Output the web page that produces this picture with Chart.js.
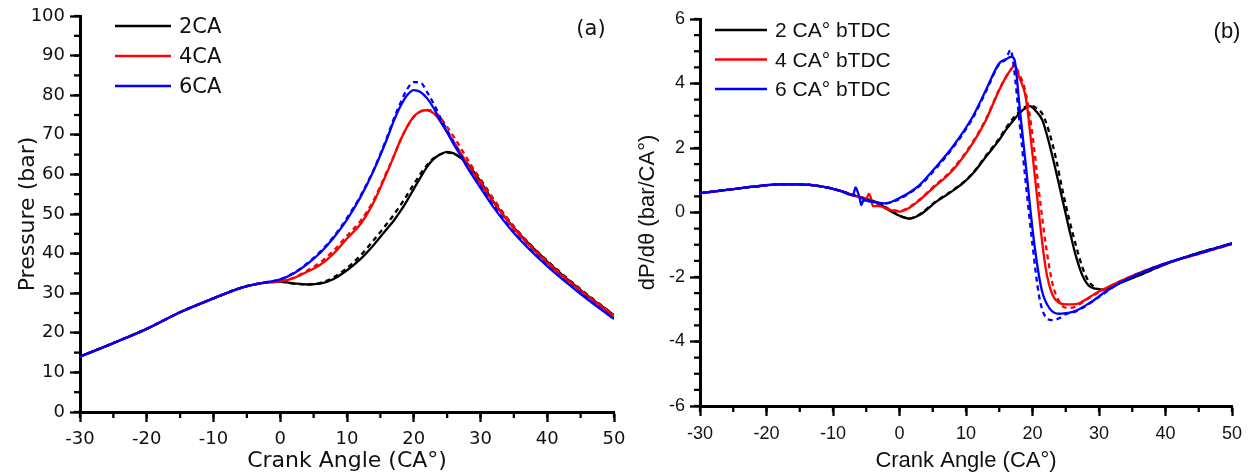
<!DOCTYPE html>
<html>
<head>
<meta charset="utf-8">
<script src="https://cdn.jsdelivr.net/npm/chart.js@4.4.1/dist/chart.umd.min.js"></script>
<style>
  html, body { margin: 0; padding: 0; background: #fff; }
  #wrap { position: relative; width: 1252px; height: 474px; }
  #pressure { position: absolute; left: 0; top: 0; }
  #rate { position: absolute; left: 625px; top: 0; }
</style>
</head>
<body>
<div id="wrap">
  <canvas id="pressure" width="625" height="474"></canvas>
  <canvas id="rate" width="627" height="474"></canvas>
</div>
<script>
// ---- panel (a): cylinder pressure ----
var crankA = [-30, -25, -20, -15, -10, -6, -3, 0, 2, 4, 6, 8, 10, 12, 14, 16, 17, 18, 19, 20, 21, 22, 23, 24, 25, 26, 27, 28, 30, 32, 35, 40, 45, 50];
var compressionA = [14, 17.4, 21, 25.2, 28.7, 31.3, 32.5];
var p2 = [32.9, 32.5, 32.2, 32.4, 33.6, 35.8, 38.6, 42.2, 46.3, 48.3, 50.7, 53.4, 56.3, 59.2, 61.9, 63.9, 65.1, 65.7, 65.3, 64.2, 62.8, 58.2, 53.0, 46.5, 38.0, 30.8, 24.4];
var p2dash = [32.9, 32.4, 32.2, 32.6, 34.0, 36.4, 39.5, 43.4, 47.6, 49.8, 52.2, 54.8, 57.5, 60.1, 62.4, 64.1, 65.1, 65.5, 65.2, 64.3, 63.0, 58.8, 53.6, 46.8, 38.2, 31.0, 24.5];
var p4 = [33.0, 33.8, 35.4, 37.2, 40.0, 43.8, 47.4, 53.0, 60.5, 64.5, 68.6, 72.0, 74.6, 75.9, 76.2, 75.4, 73.4, 70.8, 68.2, 65.5, 62.7, 57.6, 52.8, 46.3, 37.6, 30.5, 24.2];
var p4dash = [33.0, 33.9, 35.7, 37.8, 40.8, 44.5, 48.2, 53.5, 60.8, 64.6, 68.6, 72.0, 74.5, 75.9, 76.3, 75.8, 74.3, 72.0, 69.5, 66.8, 64.0, 58.6, 53.5, 46.8, 38.0, 30.8, 24.4];
var p6 = [33.5, 35.0, 37.3, 40.2, 44.0, 48.6, 54.2, 61.0, 69.0, 73.5, 77.2, 80.0, 81.3, 80.8, 79.2, 76.7, 73.4, 70.6, 67.6, 64.8, 61.8, 56.6, 51.6, 45.2, 36.8, 29.8, 23.5];
var p6dash = [33.5, 35.1, 37.5, 40.5, 44.3, 49.0, 54.5, 61.2, 69.4, 74.0, 78.0, 81.5, 83.3, 83.2, 80.8, 77.8, 74.3, 71.2, 68.0, 65.0, 62.0, 57.0, 52.0, 45.4, 37.0, 30.0, 23.6];
var labelsA = ['2CA', '4CA', '6CA'];

// ---- panel (b): rate of pressure rise ----
var compX = [-30, -26, -22, -18, -15, -12, -9];
var compY = [0.6, 0.7, 0.8, 0.87, 0.87, 0.82, 0.68];
var r2x = [-7, -5, -3, -2, -1, 0, 1.5, 3, 5.5, 7.5, 9.5, 11, 13, 15, 16, 17, 18, 19, 19.6, 20.5, 21.5, 22.5, 23.5, 24.5, 25.5, 26.5, 27.5, 28.5, 29.5, 30.5, 31.5, 33, 36, 40, 45, 50];
var r2y = [0.54, 0.42, 0.28, 0.12, 0.0, -0.1, -0.19, -0.08, 0.33, 0.6, 0.9, 1.2, 1.73, 2.25, 2.56, 2.82, 3.07, 3.25, 3.3, 3.15, 2.85, 2.15, 1.3, 0.4, -0.5, -1.33, -1.95, -2.28, -2.36, -2.39, -2.35, -2.2, -1.95, -1.6, -1.25, -0.96];
var r2dx = [-7, -5, -3, -1, 0, 1.5, 3, 5.5, 7.5, 9.5, 11, 13, 15, 16, 17, 18, 19, 20, 20.5, 21.5, 22.5, 23.5, 24.5, 25.5, 26.5, 27.5, 28.5, 29.5, 30.5, 31.5, 33, 36, 40, 45, 50];
var r2dy = [0.54, 0.42, 0.28, 0.02, -0.1, -0.18, -0.06, 0.35, 0.62, 0.92, 1.22, 1.76, 2.3, 2.62, 2.9, 3.12, 3.28, 3.3, 3.25, 3.05, 2.5, 1.7, 0.7, -0.2, -1.0, -1.7, -2.15, -2.33, -2.4, -2.37, -2.2, -1.95, -1.6, -1.25, -0.96];
var r4x = [-7, -5, -4.6, -4.3, -4, -3, -2, -1, 0, 1.5, 3, 5, 8, 11, 13, 15, 16, 17, 17.3, 18, 19, 20, 21, 22, 23, 24, 25, 26, 27, 28, 29, 30, 31, 33, 36, 40, 45, 50];
var r4y = [0.54, 0.42, 0.58, 0.45, 0.2, 0.2, 0.12, 0.06, 0.03, 0.15, 0.38, 0.75, 1.31, 2.14, 2.87, 3.8, 4.2, 4.5, 4.57, 4.2, 3.55, 1.8, -0.1, -1.75, -2.55, -2.8, -2.85, -2.85, -2.82, -2.7, -2.57, -2.45, -2.35, -2.15, -1.88, -1.58, -1.28, -0.98];
var r4dx = [-7, -5, -3, -1, 0, 1.5, 3, 5, 8, 11, 13, 15, 16, 17, 17.3, 18, 19, 20, 21, 22, 23, 24, 25, 26, 27, 28, 30, 33, 36, 40, 45, 50];
var r4dy = [0.54, 0.42, 0.2, 0.08, 0.05, 0.17, 0.4, 0.78, 1.35, 2.18, 2.9, 3.82, 4.2, 4.5, 4.52, 4.3, 3.7, 2.4, 0.6, -1.0, -2.2, -2.75, -2.95, -2.95, -2.85, -2.72, -2.47, -2.15, -1.88, -1.58, -1.28, -0.98];
var r6x = [-7, -6.6, -6.3, -6, -5.75, -5.4, -4, -3, -2, -1, 0, 1.5, 3, 5, 8, 11, 13, 15, 16, 16.8, 17.3, 18, 19, 20.2, 21.4, 22.6, 24, 25, 26, 27, 28, 29, 30, 31, 33, 36, 40, 45, 50];
var r6y = [0.54, 0.78, 0.65, 0.45, 0.23, 0.38, 0.32, 0.3, 0.28, 0.35, 0.45, 0.62, 0.85, 1.3, 2.04, 2.97, 3.8, 4.63, 4.75, 4.83, 4.73, 3.4, 1.45, -0.86, -2.41, -2.98, -3.14, -3.12, -3.08, -3.0, -2.88, -2.75, -2.6, -2.45, -2.2, -1.9, -1.58, -1.27, -0.96];
var r6dx = [-7, -5, -3, -1, 1.5, 3, 5, 8, 11, 13, 15, 16, 16.7, 17.2, 18, 19, 20, 21, 22, 23, 24, 25, 26, 27, 28, 30, 33, 36, 40, 45, 50];
var r6dy = [0.54, 0.4, 0.28, 0.33, 0.6, 0.82, 1.25, 2.0, 2.92, 3.75, 4.6, 4.75, 5.04, 4.5, 2.9, 0.9, -1.0, -2.6, -3.25, -3.34, -3.28, -3.15, -3.1, -3.02, -2.9, -2.62, -2.2, -1.9, -1.58, -1.27, -0.96];
var labelsB = ['2 CA\u00b0 bTDC', '4 CA\u00b0 bTDC', '6 CA\u00b0 bTDC'];

var BLACK = '#000000', RED = '#ff0000', BLUE = '#0000ff';

function pts(xs, ys) {
    return xs.map(function (x, i) { return { x: x, y: ys[i] }; });
}

function line(label, data, color, dashed) {
    return {
        label: label,
        data: data,
        borderColor: color,
        borderWidth: 2.3,
        borderDash: dashed ? [5, 4] : [],
        pointRadius: 0,
        cubicInterpolationMode: 'monotone',
        fill: false
    };
}

// minor ticks, inside legend and panel tag
const decorations = {
    id: 'decorations',
    afterDraw(chart, args, o) {
        const ctx = chart.ctx, area = chart.chartArea;
        const xs = chart.scales.x, ys = chart.scales.y;
        ctx.save();
        ctx.strokeStyle = '#000';
        ctx.lineWidth = 2.3;
        for (let v = xs.min; v <= xs.max + 1e-9; v += o.xMinor) {
            const px = xs.getPixelForValue(v);
            ctx.beginPath();
            ctx.moveTo(px, area.bottom);
            ctx.lineTo(px, area.bottom + 6);
            ctx.stroke();
        }
        for (let v = ys.min; v <= ys.max + 1e-9; v += o.yMinor) {
            const py = ys.getPixelForValue(v);
            ctx.beginPath();
            ctx.moveTo(area.left, py);
            ctx.lineTo(area.left - 6, py);
            ctx.stroke();
        }
        // legend
        const solid = chart.data.datasets.filter(function (d) { return !d.borderDash.length; });
        const order = [BLACK, RED, BLUE];
        solid.sort(function (a, b) { return order.indexOf(a.borderColor) - order.indexOf(b.borderColor); });
        ctx.font = o.legendFont;
        ctx.textBaseline = 'middle';
        ctx.textAlign = 'left';
        solid.forEach(function (d, i) {
            const y = o.legendY + i * o.legendGap;
            ctx.strokeStyle = d.borderColor;
            ctx.lineWidth = 2.6;
            ctx.beginPath();
            ctx.moveTo(o.legendX, y);
            ctx.lineTo(o.legendX + o.legendLen, y);
            ctx.stroke();
            ctx.fillStyle = '#111';
            ctx.fillText(d.label, o.legendX + o.legendLen + 8, y + 1.5);
        });
        ctx.font = o.tagFont;
        ctx.textAlign = 'center';
        ctx.fillText(o.tag, o.tagX, o.tagY);
        ctx.restore();
    }
};

function makeOptions(cfg) {
    return {
        responsive: false,
        animation: false,
        devicePixelRatio: 1,
        layout: { padding: { top: cfg.padTop, right: cfg.padRight, left: 0, bottom: 0 } },
        plugins: {
            legend: { display: false },
            tooltip: { enabled: false },
            decorations: cfg.deco
        },
        scales: {
            x: {
                type: 'linear',
                min: -30, max: 50,
                afterFit: function (s) { s.height = cfg.xHeight; s.paddingLeft = 0; s.paddingRight = 0; },
                border: { display: true, color: '#000', width: 3 },
                grid: { drawOnChartArea: false, tickLength: 10, tickWidth: 2.3, tickColor: '#000' },
                ticks: { stepSize: 10, autoSkip: false, maxRotation: 0, padding: 7, color: '#111', font: { family: cfg.family, size: 18 } },
                title: { display: true, text: 'Crank Angle (CA\u00b0)', color: '#111', padding: { top: 1, bottom: 0 }, font: { family: cfg.family, size: 22 } }
            },
            y: {
                min: cfg.yMin, max: cfg.yMax,
                afterFit: function (s) { s.width = cfg.yWidth; s.paddingTop = 0; s.paddingBottom = 0; },
                border: { display: true, color: '#000', width: 3 },
                grid: { drawOnChartArea: false, tickLength: 10, tickWidth: 2.3, tickColor: '#000' },
                ticks: { stepSize: cfg.yStep, autoSkip: false, padding: 5, color: '#111', font: { family: cfg.family, size: 18 } },
                title: { display: true, text: cfg.yTitle, color: '#111', padding: { top: cfg.yTitlePad, bottom: 0 }, font: { family: cfg.family, size: 22 } }
            }
        }
    };
}

function withComp(ys) {
    return pts(crankA, compressionA.concat(ys));
}

new Chart(document.getElementById('pressure'), {
    type: 'line',
    data: {
        datasets: [
            line(labelsA[2], withComp(p6dash), BLUE, true),
            line(labelsA[2], withComp(p6), BLUE, false),
            line(labelsA[1], withComp(p4dash), RED, true),
            line(labelsA[1], withComp(p4), RED, false),
            line(labelsA[0], withComp(p2dash), BLACK, true),
            line(labelsA[0], withComp(p2), BLACK, false)
        ]
    },
    options: makeOptions({
        padTop: 16, padRight: 11, xHeight: 62, yWidth: 80,
        yMin: 0, yMax: 100, yStep: 10, yTitle: 'Pressure (bar)', yTitlePad: 15,
        family: '"DejaVu Sans", Verdana, sans-serif',
        deco: {
            xMinor: 5, yMinor: 5,
            legendX: 115, legendY: 26, legendGap: 30, legendLen: 56,
            legendFont: '21px "DejaVu Sans", sans-serif',
            tag: '(a)', tagX: 591, tagY: 30, tagFont: '21px "DejaVu Sans", sans-serif'
        }
    }),
    plugins: [decorations]
});

function withPre(xs, ys) {
    return pts(compX.concat(xs), compY.concat(ys));
}

new Chart(document.getElementById('rate'), {
    type: 'line',
    data: {
        datasets: [
            line(labelsB[2], withPre(r6dx, r6dy), BLUE, true),
            line(labelsB[2], withPre(r6x, r6y), BLUE, false),
            line(labelsB[1], withPre(r4dx, r4dy), RED, true),
            line(labelsB[1], withPre(r4x, r4y), RED, false),
            line(labelsB[0], withPre(r2dx, r2dy), BLACK, true),
            line(labelsB[0], withPre(r2x, r2y), BLACK, false)
        ]
    },
    options: makeOptions({
        padTop: 19, padRight: 20, xHeight: 68, yWidth: 75,
        yMin: -6, yMax: 6, yStep: 2, yTitle: 'dP/d\u03b8 (bar/CA\u00b0)', yTitlePad: 10,
        family: '"Liberation Sans", Arial, sans-serif',
        deco: {
            xMinor: 5, yMinor: 0.5,
            legendX: 90, legendY: 30, legendGap: 29.5, legendLen: 52,
            legendFont: '21px "Liberation Sans", Arial, sans-serif',
            tag: '(b)', tagX: 602, tagY: 32, tagFont: '22px "Liberation Sans", Arial, sans-serif'
        }
    }),
    plugins: [decorations]
});
</script>
</body>
</html>
